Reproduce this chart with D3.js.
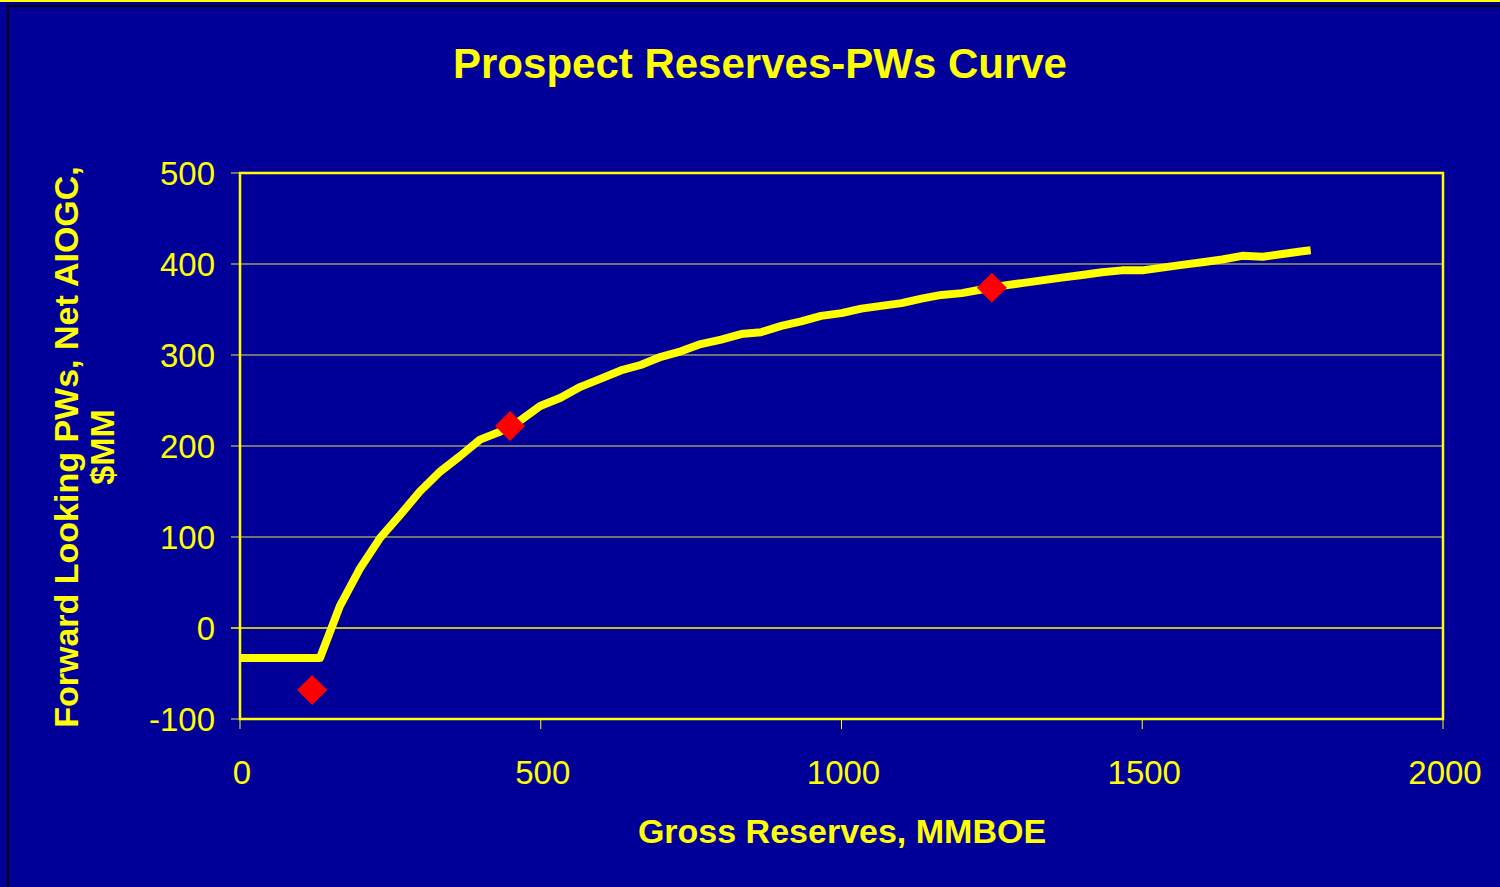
<!DOCTYPE html>
<meta charset="utf-8">
<script src="https://d3js.org/d3.v7.min.js"></script>
<style>
  body { margin: 0; background: #000099; }
  text { font-family: "Liberation Sans", Arial, sans-serif; fill: #ffff00; }
</style>
<div id="my_dataviz"></div>
<script>

// curve data (gross reserves, MMBOE -> PWs, $MM)
var reserves = [0, 133, 166, 200, 233, 266, 299, 333, 366, 399, 433, 466, 499, 533, 566, 600, 633, 666, 700, 733, 766, 800, 833, 866, 900, 933, 966, 1000, 1033, 1066, 1100, 1133, 1166, 1200, 1233, 1266, 1300, 1333, 1366, 1400, 1433, 1466, 1500, 1533, 1566, 1600, 1633, 1666, 1700, 1733, 1766, 1780]
var pws = [-33, -33, 24, 66, 99, 124, 150, 172, 189, 207, 216, 228, 244, 253, 265, 274, 283, 289, 298, 304, 312, 317, 323, 325, 332, 337, 343, 346, 351, 354, 357, 362, 366, 368, 372, 376, 379, 382, 385, 388, 391, 393, 393, 396, 399, 402, 405, 409, 408, 411, 414, 415]

// the three red markers
var markerX = [120, 449, 1250]
var markerY = [-68, 222, 374]

var xTicks = [0, 500, 1000, 1500, 2000]
var yTicks = [-100, 0, 100, 200, 300, 400, 500]

var width = 1500,
    height = 887

var svg = d3.select("#my_dataviz")
  .append("svg")
  .attr("width", width)
  .attr("height", height)

// background + frame
svg.append("rect").attr("x", 0).attr("y", 0).attr("width", width).attr("height", height).attr("fill", "#000099")
svg.append("rect").attr("x", 0).attr("y", 0).attr("width", width).attr("height", 2).attr("fill", "#ffff00")
svg.append("rect").attr("x", 8).attr("y", 6).attr("width", width + 20).attr("height", height + 20)
  .attr("fill", "none").attr("stroke", "#000000").attr("stroke-width", 2)

var plotL = 240, plotR = 1443, plotT = 173, plotB = 719

var x = d3.scaleLinear().domain([0, 2000]).range([plotL, plotR])
var y = d3.scaleLinear().domain([-100, 500]).range([plotB, plotT])

// gridlines (zero line is yellow)
svg.selectAll(".grid")
  .data(yTicks)
  .enter()
  .append("line")
  .attr("x1", plotL - 9)
  .attr("x2", plotR)
  .attr("y1", function(d) { return y(d) })
  .attr("y2", function(d) { return y(d) })
  .attr("stroke", function(d) { return d == 0 ? "#ffff00" : "#999966" })
  .attr("stroke-width", 1.5)

// plot box
svg.append("rect")
  .attr("x", plotL).attr("y", plotT)
  .attr("width", plotR - plotL).attr("height", plotB - plotT)
  .attr("fill", "none").attr("stroke", "#ffff00").attr("stroke-width", 2.5)

// x ticks
svg.selectAll(".xtick")
  .data(xTicks)
  .enter()
  .append("line")
  .attr("x1", function(d) { return x(d) })
  .attr("x2", function(d) { return x(d) })
  .attr("y1", plotB)
  .attr("y2", plotB + 10)
  .attr("stroke", "#ffff00")
  .attr("stroke-width", 1)

svg.selectAll(".ylabel")
  .data(yTicks)
  .enter()
  .append("text")
  .attr("x", 215)
  .attr("y", function(d) { return y(d) + 12 })
  .attr("text-anchor", "end")
  .style("font-size", "33px")
  .text(function(d) { return d })

svg.selectAll(".xlabel")
  .data(xTicks)
  .enter()
  .append("text")
  .attr("x", function(d) { return x(d) + 2 })
  .attr("y", 784)
  .attr("text-anchor", "middle")
  .style("font-size", "33px")
  .text(function(d) { return d })

// the curve
var line = d3.line()
  .x(function(d, i) { return x(reserves[i]) })
  .y(function(d, i) { return y(pws[i]) })

svg.append("path")
  .datum(reserves)
  .attr("d", line)
  .attr("fill", "none")
  .attr("stroke", "#ffff00")
  .attr("stroke-width", 8)
  .attr("stroke-linejoin", "round")

// red diamonds
svg.selectAll(".marker")
  .data(markerX)
  .enter()
  .append("path")
  .attr("d", d3.symbol().type(d3.symbolSquare).size(450))
  .attr("transform", function(d, i) { return "translate(" + x(d) + "," + y(markerY[i]) + ") rotate(45)" })
  .attr("fill", "#ff0000")

// titles
svg.append("text")
  .attr("x", 760).attr("y", 78)
  .attr("text-anchor", "middle")
  .style("font-size", "42px").style("font-weight", "bold")
  .text("Prospect Reserves-PWs Curve")

svg.append("text")
  .attr("x", 842).attr("y", 843)
  .attr("text-anchor", "middle")
  .style("font-size", "34px").style("font-weight", "bold")
  .text("Gross Reserves, MMBOE")

var yt = svg.append("text")
  .attr("transform", "translate(78,447) rotate(-90)")
  .attr("text-anchor", "middle")
  .style("font-size", "34px").style("font-weight", "bold")
yt.append("tspan").attr("x", 0).attr("y", 0).text("Forward Looking PWs, Net AIOGC,")
yt.append("tspan").attr("x", 0).attr("y", 36).text("$MM")

</script>
